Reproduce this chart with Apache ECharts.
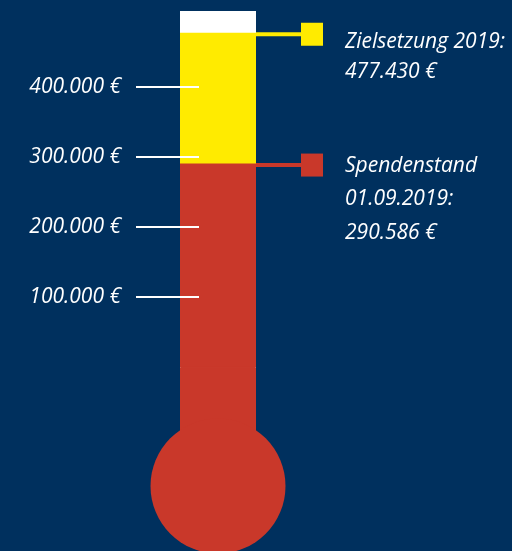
<!DOCTYPE html>
<html lang="de">
<head>
<meta charset="UTF-8">
<title>Spendenstand 2019</title>
<script src="https://cdn.jsdelivr.net/npm/echarts@6/dist/echarts.min.js"></script>
<style>
    html, body { margin: 0; padding: 0; background: #00305e; }
    #chart { width: 512px; height: 551px; }
</style>
</head>
<body>
<div id="chart"></div>
<script>
    // Daten
    var categories = ['Spenden'];
    var goalValue = [477430];
    var currentValue = [290586];
    var stemValue = [-100000];     // Röhre unterhalb der Nulllinie
    var bulbValue = [-170000];     // Mittelpunkt der Kugel
    var tickValues = [100000, 200000, 300000, 400000];
    var tickLabels = ['100.000 €', '200.000 €', '300.000 €', '400.000 €'];
    var goalText = ['Zielsetzung 2019:', '477.430 €'];
    var currentText = ['Spendenstand', '01.09.2019:', '290.586 €'];

    var navy = '#00305e', yellow = '#ffeb00', red = '#c9382a';
    var font = 'italic 21px "Open Sans"';
    var barW = 76;

    var chart = echarts.init(document.getElementById('chart'));
    var option = {
        backgroundColor: navy,
        animation: false,
        grid: { left: 136, width: 164, top: 11, height: 426 },
        xAxis: { type: 'category', data: categories, show: false },
        yAxis: {
            type: 'value', min: -100000, max: 508500, z: 10,
            axisLine: { show: false },
            splitLine: { show: false },
            axisTick: {
                show: true, inside: true, length: 63, customValues: tickValues,
                lineStyle: { color: '#ffffff', width: 2 }
            },
            axisLabel: {
                customValues: tickValues, margin: 15, color: '#ffffff',
                fontSize: 21, fontStyle: 'italic', fontFamily: 'Open Sans',
                formatter: function (v) {
                    var i = tickValues.indexOf(v);
                    return i < 0 ? '' : tickLabels[i];
                }
            }
        },
        series: [
            {
                name: 'Ziel', type: 'bar', data: goalValue, barWidth: barW, barGap: '-100%',
                itemStyle: { color: yellow },
                showBackground: true, backgroundStyle: { color: '#ffffff' }
            },
            {
                name: 'Spendenstand', type: 'bar', stack: 'stand', data: currentValue,
                barWidth: barW, barGap: '-100%', itemStyle: { color: red }
            },
            {
                name: 'Röhre', type: 'bar', stack: 'stand', data: stemValue,
                barWidth: barW, barGap: '-100%',
                itemStyle: { color: red, borderColor: red, borderWidth: 1 }
            },
            {
                name: 'Kugel', type: 'scatter', data: bulbValue, symbolSize: 135,
                clip: false, z: 3, itemStyle: { color: red, opacity: 1 }
            }
        ]
    };
    chart.setOption(option);

    // Verbindungslinien, Kästchen und Beschriftung rechts
    function px(v) { return chart.convertToPixel({ seriesIndex: 0 }, [0, v]); }
    function marker(value, color, lines, offsets) {
        var p = px(value);
        var tubeRight = p[0] + barW / 2;
        var els = [
            { type: 'rect', shape: { x: tubeRight, y: p[1] - 0.5, width: 301 - tubeRight, height: 4 }, style: { fill: color }, z: 20 },
            { type: 'rect', shape: { x: 301, y: p[1] - 10, width: 22, height: 23 }, style: { fill: color }, z: 20 }
        ];
        lines.forEach(function (t, i) {
            els.push({
                type: 'text', x: 345, y: p[1] + offsets[i], z: 20,
                style: { text: t, fill: '#ffffff', font: font, verticalAlign: 'middle' }
            });
        });
        return els;
    }
    chart.setOption({
        graphic: marker(goalValue[0], yellow, goalText, [9, 39])
            .concat(marker(currentValue[0], red, currentText, [2, 35.5, 69]))
    });
</script>
</body>
</html>
